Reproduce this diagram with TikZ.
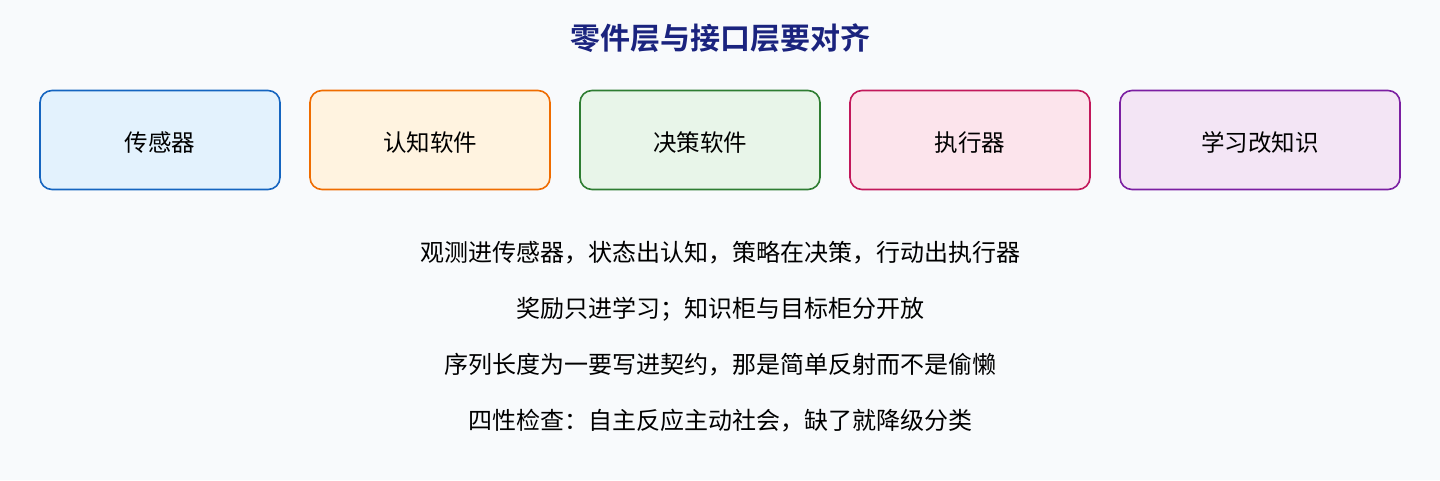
\documentclass[tikz,border=0pt]{standalone}
\usepackage{fontspec}
\newfontfamily\cjk{Noto Sans CJK SC}
\newfontfamily\cjkb{Noto Sans CJK SC Bold}
\definecolor{bg}{HTML}{F8FAFC}
\definecolor{titlec}{HTML}{1A237E}
\definecolor{b1}{HTML}{1565C0}\definecolor{f1}{HTML}{E3F2FD}
\definecolor{b2}{HTML}{EF6C00}\definecolor{f2}{HTML}{FFF3E0}
\definecolor{b3}{HTML}{2E7D32}\definecolor{f3}{HTML}{E8F5E9}
\definecolor{b4}{HTML}{C2185B}\definecolor{f4}{HTML}{FCE4EC}
\definecolor{b5}{HTML}{7B1FA2}\definecolor{f5}{HTML}{F3E5F5}
\tikzset{
  partbox/.style={rectangle, rounded corners=12pt, line width=1.6pt, minimum width=240pt, minimum height=99pt, inner sep=0pt, font=\cjk\fontsize{23.5}{27}\selectfont, text=black},
  bodytxt/.style={font=\cjk\fontsize{24}{28}\selectfont, text=black, inner sep=0pt},
}
\newcommand\lowtxt[1]{\raisebox{-2.5pt}[\height][\depth]{#1}}
\begin{document}
\begin{tikzpicture}[x=1pt,y=-1pt]
\fill[bg] (0,0) rectangle (1440,480);
\useasboundingbox (0,0) rectangle (1440,480);
\node[font=\cjkb\fontsize{30}{34}\selectfont, text=titlec, inner sep=0pt] (title) at (720,38) {零件层与接口层要对齐};
\node[partbox, draw=b1, fill=f1] (p1) at (160,140) {\lowtxt{传感器}};
\node[partbox, draw=b2, fill=f2] (p2) at (430,140) {\lowtxt{认知软件}};
\node[partbox, draw=b3, fill=f3] (p3) at (700,140) {\lowtxt{决策软件}};
\node[partbox, draw=b4, fill=f4] (p4) at (970,140) {\lowtxt{执行器}};
\node[partbox, draw=b5, fill=f5, minimum width=280pt] (p5) at (1260,140) {\lowtxt{学习改知识}};
\node[bodytxt] (l1) at (720,253) {观测进传感器，状态出认知，策略在决策，行动出执行器};
\node[bodytxt] (l2) at (720,309) {奖励只进学习；知识柜与目标柜分开放};
\node[bodytxt] (l3) at (720,365) {序列长度为一要写进契约，那是简单反射而不是偷懒};
\node[bodytxt] (l4) at (720,421) {四性检查：自主反应主动社会，缺了就降级分类};
\end{tikzpicture}
\end{document}
